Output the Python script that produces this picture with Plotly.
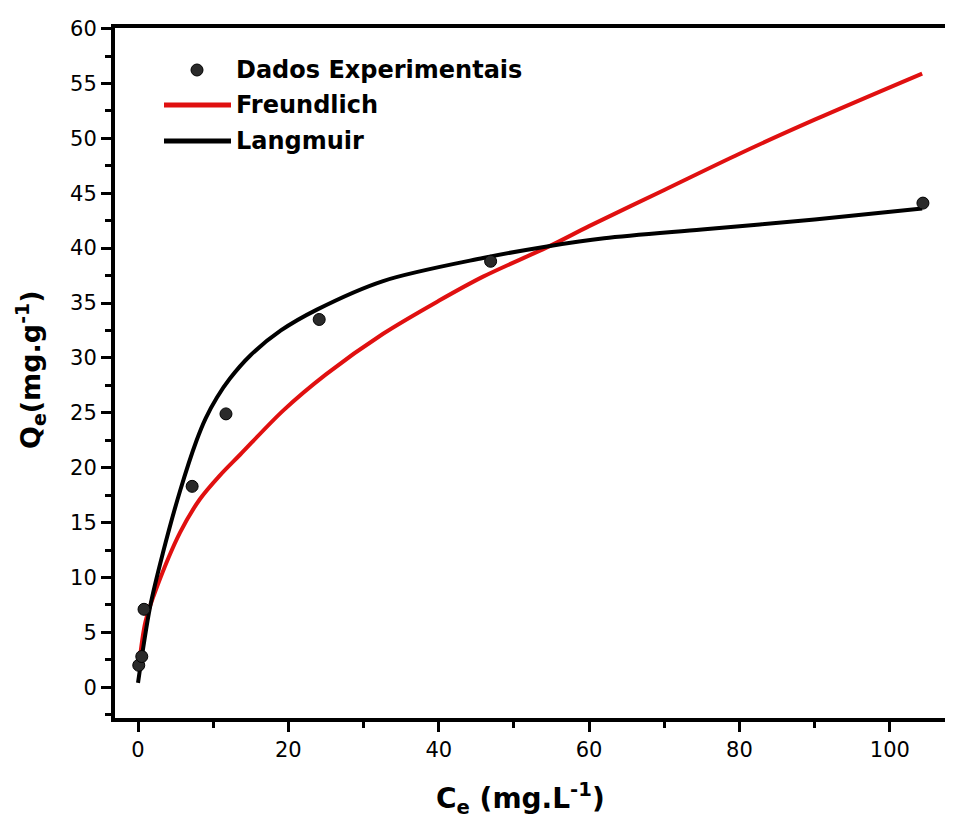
import plotly.graph_objects as go

# Experimental data
ce_exp = [0.1, 0.5, 0.8, 7.2, 11.7, 24.1, 46.9, 104.4]
qe_exp = [2.0, 2.8, 7.1, 18.3, 24.9, 33.5, 38.8, 44.1]

# Freundlich fit curve
ce_freund = [0.1, 1, 2.5, 5.6, 8.2, 10.9, 13.6, 19.3, 25, 32.6, 40, 45.9, 54.8, 60, 70, 80, 90, 104.3]
qe_freund = [1.8, 6.0, 9.1, 14.1, 17.1, 19.3, 21.2, 25.2, 28.5, 32.2, 35.2, 37.4, 40.2, 42.0, 45.3, 48.6, 51.7, 55.9]

# Langmuir fit curve
ce_lang = [0, 1.6, 3.3, 5.6, 7.8, 9, 10.5, 12.2, 14.9, 19, 23.8, 32.6, 45.9, 54.8, 62, 75, 90, 104.3]
qe_lang = [0.4, 7.3, 12.2, 17.9, 22.5, 24.5, 26.4, 28.1, 30.2, 32.5, 34.4, 37.0, 39.1, 40.2, 40.9, 41.7, 42.6, 43.6]

x_ticks = [0, 20, 40, 60, 80, 100]
y_ticks = [0, 5, 10, 15, 20, 25, 30, 35, 40, 45, 50, 55, 60]

legend_names = ["Dados Experimentais", "Freundlich", "Langmuir"]

# page has an 8px body margin; target plot area in page pixels: x 115..(right edge), y 28..718
OFF = 8
W, H = 953, 814
L, R, T, B = 107, 0, 20, 104
PW, PH = W - L - R, H - T - B


def px(x):
    return (x - OFF - L) / PW


def py(y):
    return (H - B - (y - OFF)) / PH


fig = go.Figure()
fig.add_trace(go.Scatter(x=ce_freund, y=qe_freund, mode="lines", line=dict(color="#e01010", width=4, shape="spline", smoothing=0.9),
                         name=legend_names[1], showlegend=False))
fig.add_trace(go.Scatter(x=ce_lang, y=qe_lang, mode="lines", line=dict(color="black", width=4, shape="spline", smoothing=0.9),
                         name=legend_names[2], showlegend=False))
fig.add_trace(go.Scatter(x=ce_exp, y=qe_exp, mode="markers",
                         marker=dict(size=12, color="#2a2a2a", line=dict(color="black", width=1)),
                         name=legend_names[0], showlegend=False))

font_b = "DejaVu Sans, sans-serif"
font = "DejaVu Sans, sans-serif"

shapes = []
annotations = []
# manual legend
shapes.append(dict(type="circle", xref="paper", yref="paper", xsizemode="pixel", ysizemode="pixel",
                   xanchor=px(197), yanchor=py(70), x0=-6, x1=6, y0=-6, y1=6,
                   fillcolor="#2a2a2a", line=dict(color="black", width=1)))
shapes.append(dict(type="line", xref="paper", yref="paper", x0=px(164), x1=px(231), y0=py(105), y1=py(105),
                   line=dict(color="#e01010", width=5)))
shapes.append(dict(type="line", xref="paper", yref="paper", x0=px(164), x1=px(231), y0=py(141), y1=py(141),
                   line=dict(color="black", width=5)))
for name, yy in zip(legend_names, [70, 105, 141]):
    annotations.append(dict(text="<b>%s</b>" % name, xref="paper", yref="paper", x=px(234), y=py(yy),
                            xanchor="left", yanchor="middle", showarrow=False,
                            font=dict(family=font_b, size=24, color="black")))

annotations.append(dict(text="<b>C<sub>e</sub> (mg.L<sup>-1</sup>)</b>", xref="paper", yref="paper",
                        x=px(520), y=py(798), xanchor="center", yanchor="middle", showarrow=False,
                        font=dict(family=font_b, size=28, color="black")))
annotations.append(dict(text="<b>Q<sub>e</sub>(mg.g<sup>-1</sup>)</b>", xref="paper", yref="paper",
                        x=px(30), y=py(370), xanchor="center", yanchor="middle", showarrow=False, textangle=-90,
                        font=dict(family=font_b, size=27, color="black")))

# x range chosen so that 0 sits at page px 138 and 100 at page px 890
x_left = -3.06
x_right = x_left + (PW / 838.0) * 111.46

fig.update_layout(
    width=W, height=H,
    margin=dict(l=L, r=R, t=T, b=B),
    paper_bgcolor="white", plot_bgcolor="white",
    showlegend=False,
    shapes=shapes, annotations=annotations,
    xaxis=dict(range=[x_left, x_right], tickvals=x_ticks, ticktext=[str(v) for v in x_ticks],
               showgrid=False, zeroline=False, showline=True, linecolor="black", linewidth=4, mirror=True,
               ticks="outside", ticklen=10, tickwidth=3, tickcolor="black",
               minor=dict(tickvals=[10, 30, 50, 70, 90], ticks="outside", ticklen=6, tickwidth=3, tickcolor="black"),
               tickfont=dict(family=font, size=21, color="black")),
    yaxis=dict(range=[-2.8, 60.05], tickvals=y_ticks, ticktext=[str(v) for v in y_ticks],
               showgrid=False, zeroline=False, showline=True, linecolor="black", linewidth=4, mirror=False,
               ticks="outside", ticklen=10, tickwidth=3, tickcolor="black",
               minor=dict(dtick=2.5, tick0=0, ticks="outside", ticklen=6, tickwidth=3, tickcolor="black"),
               tickfont=dict(family=font, size=21, color="black")),
)

fig.write_html("out.html")
